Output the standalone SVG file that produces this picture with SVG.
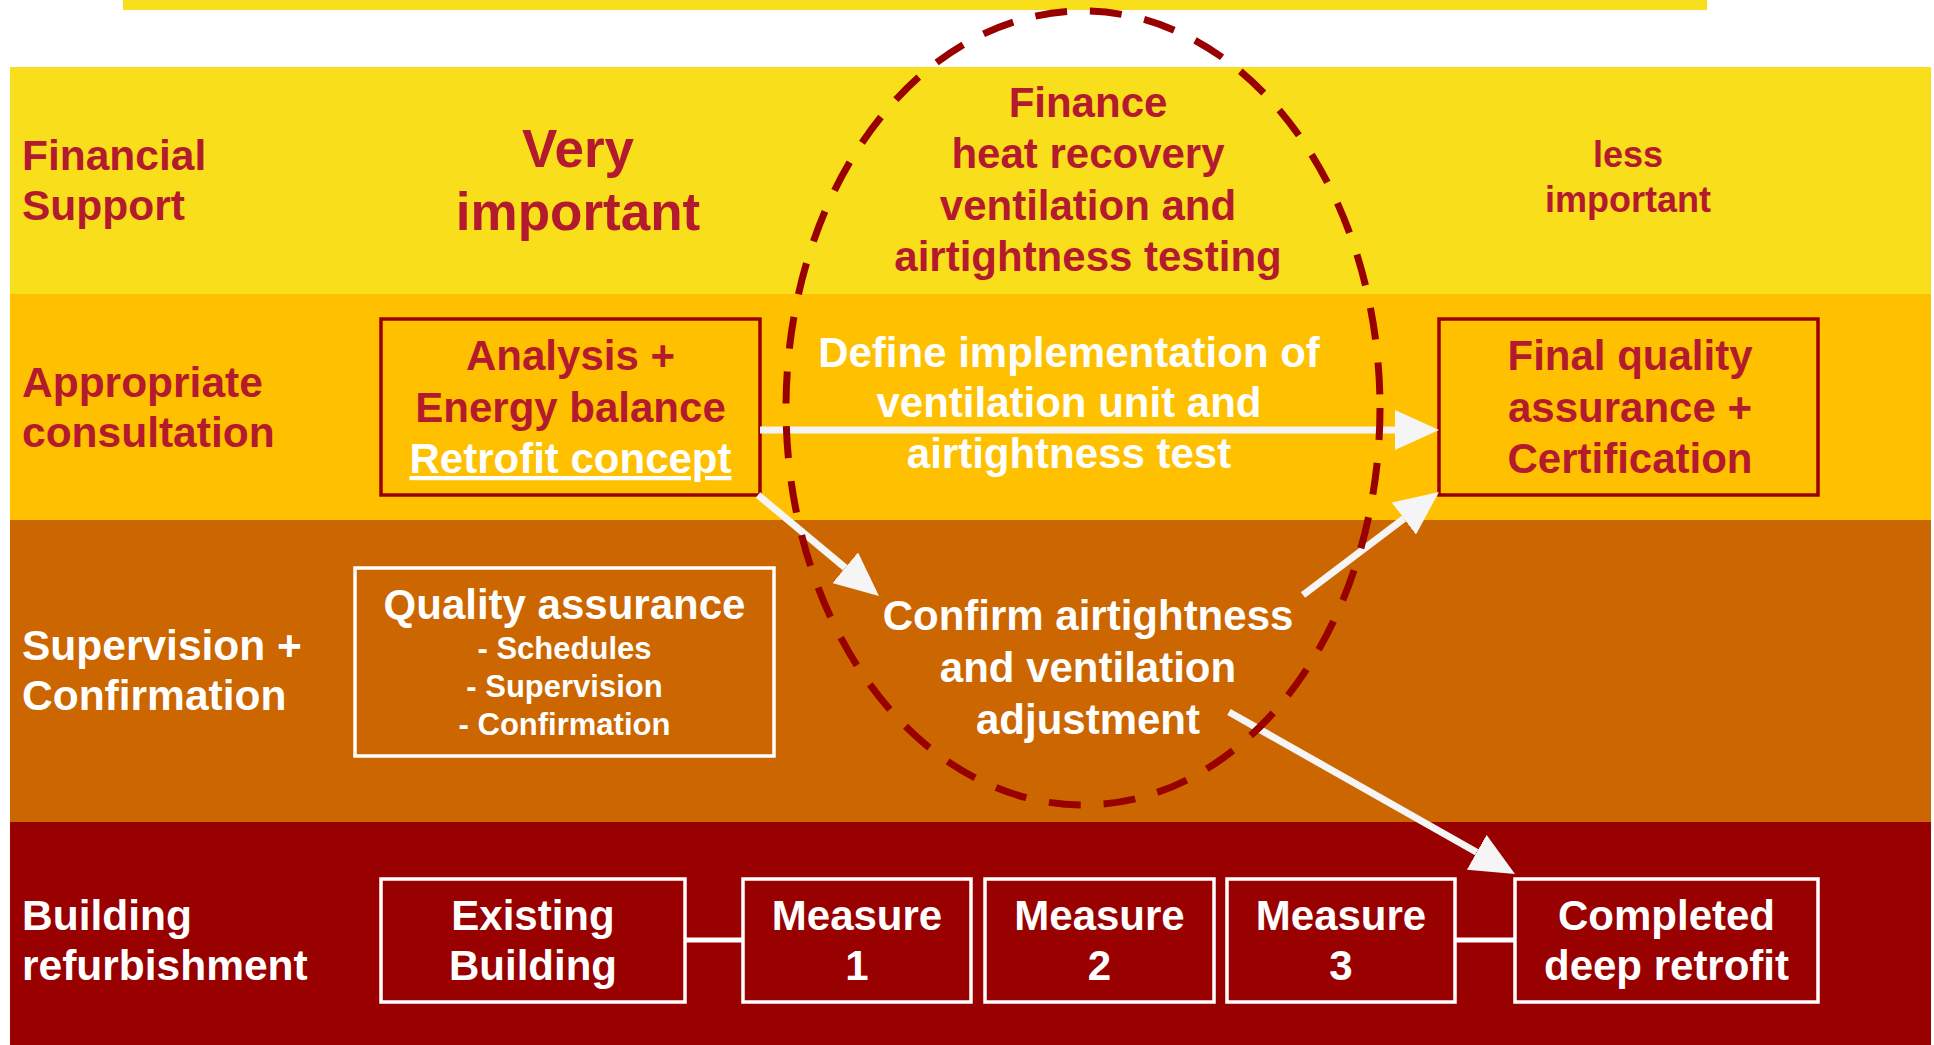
<svg xmlns="http://www.w3.org/2000/svg" width="1934" height="1045" viewBox="0 0 1934 1045">
<style>
text { font-family: "Liberation Sans", Arial, sans-serif; font-weight: bold; }
.red { fill: #B31A2D; }
.wht { fill: #FFFFFF; }
.mid { text-anchor: middle; }
.f42 { font-size: 42px; }
.lab { font-size: 42.5px; }
.f31 { font-size: 31px; }
.boxR { fill: none; stroke: #990000; stroke-width: 3.5; }
.boxW { fill: none; stroke: #FFFFFF; stroke-width: 3.5; }
.arrow { stroke: #F5F5F5; stroke-width: 7; fill: none; marker-end: url(#ah); }
.link { stroke: #FFFFFF; stroke-width: 5; }
.oval { fill: none; stroke: #990000; stroke-width: 7; stroke-dasharray: 32 23; }
</style>
<defs>
<marker id="ah" markerUnits="userSpaceOnUse" markerWidth="44" markerHeight="40" refX="0" refY="20" orient="auto">
<path d="M0,0 L44,20 L0,40 Z" fill="#F5F5F5"/>
</marker>
</defs>
<rect x="0" y="0" width="1934" height="1045" fill="#FFFFFF"/>
<rect x="123" y="0" width="1584" height="10" fill="#F9DE1C"/>
<g id="bands">
<rect x="10" y="67" width="1921" height="227" fill="#F9DE1C"/>
<rect x="10" y="294" width="1921" height="226" fill="#FFC000"/>
<rect x="10" y="520" width="1921" height="302" fill="#CC6600"/>
<rect x="10" y="822" width="1921" height="223" fill="#990000"/>
</g>
<g id="row-labels">
<text class="red lab" x="22" y="170">Financial</text>
<text class="red lab" x="22" y="220">Support</text>
<text class="red lab" x="22" y="397">Appropriate</text>
<text class="red lab" x="22" y="447">consultation</text>
<text class="wht lab" x="22" y="660">Supervision +</text>
<text class="wht lab" x="22" y="710">Confirmation</text>
<text class="wht lab" x="22" y="930">Building</text>
<text class="wht lab" x="22" y="980">refurbishment</text>
</g>
<g id="very-important">
<text class="red mid" style="font-size:53px" x="578" y="167">Very</text>
<text class="red mid" style="font-size:53px" x="578" y="230">important</text>
</g>
<g id="finance-hrv">
<text class="red mid f42" x="1088" y="117">Finance</text>
<text class="red mid f42" x="1088" y="168">heat recovery</text>
<text class="red mid f42" x="1088" y="220">ventilation and</text>
<text class="red mid f42" x="1088" y="271">airtightness testing</text>
</g>
<g id="less-important">
<text class="red mid" style="font-size:36px" x="1628" y="167">less</text>
<text class="red mid" style="font-size:36px" x="1628" y="212">important</text>
</g>
<g id="analysis">
<rect class="boxR" x="381" y="319" width="379" height="176"/>
<text class="red mid f42" x="570.5" y="370">Analysis +</text>
<text class="red mid f42" x="570.5" y="422">Energy balance</text>
<text class="wht mid f42" x="570.5" y="473" text-decoration="underline">Retrofit concept</text>
</g>
<g id="final-qa">
<rect class="boxR" x="1439" y="319" width="379" height="176"/>
<text class="red mid f42" x="1630" y="370">Final quality</text>
<text class="red mid f42" x="1630" y="422">assurance +</text>
<text class="red mid f42" x="1630" y="473">Certification</text>
</g>
<g id="define-impl">
<text class="wht mid f42" x="1069" y="367">Define implementation of</text>
<text class="wht mid f42" x="1069" y="417">ventilation unit and</text>
<text class="wht mid f42" x="1069" y="468">airtightness test</text>
</g>
<g id="quality-assurance">
<rect class="boxW" x="355" y="568" width="419" height="188"/>
<text class="wht mid f42" x="564.5" y="619">Quality assurance</text>
<text class="wht mid f31" x="564.5" y="659">- Schedules</text>
<text class="wht mid f31" x="564.5" y="697">- Supervision</text>
<text class="wht mid f31" x="564.5" y="735">- Confirmation</text>
</g>
<g id="confirm">
<text class="wht mid f42" x="1088" y="630">Confirm airtightness</text>
<text class="wht mid f42" x="1088" y="682">and ventilation</text>
<text class="wht mid f42" x="1088" y="734">adjustment</text>
</g>
<g id="existing-building">
<rect class="boxW" x="381" y="879" width="304" height="123"/>
<text class="wht mid f42" x="533" y="930">Existing</text>
<text class="wht mid f42" x="533" y="980">Building</text>
</g>
<g id="measure-1">
<rect class="boxW" x="743" y="879" width="228" height="123"/>
<text class="wht mid f42" x="857" y="930">Measure</text>
<text class="wht mid f42" x="857" y="980">1</text>
</g>
<g id="measure-2">
<rect class="boxW" x="985" y="879" width="229" height="123"/>
<text class="wht mid f42" x="1099.5" y="930">Measure</text>
<text class="wht mid f42" x="1099.5" y="980">2</text>
</g>
<g id="measure-3">
<rect class="boxW" x="1227" y="879" width="228" height="123"/>
<text class="wht mid f42" x="1341" y="930">Measure</text>
<text class="wht mid f42" x="1341" y="980">3</text>
</g>
<g id="completed">
<rect class="boxW" x="1515" y="879" width="303" height="123"/>
<text class="wht mid f42" x="1666.5" y="930">Completed</text>
<text class="wht mid f42" x="1666.5" y="980">deep retrofit</text>
</g>
<g id="connectors">
<line class="arrow" x1="760" y1="430" x2="1395" y2="430"/>
<line class="arrow" x1="758" y1="495" x2="845.2" y2="567.8"/>
<line class="arrow" x1="1303" y1="595" x2="1403.9" y2="518.6"/>
<line class="arrow" x1="1229" y1="712" x2="1476.7" y2="852.3"/>
<line class="link" x1="685" y1="940" x2="743" y2="940"/>
<line class="link" x1="1455" y1="940" x2="1515" y2="940"/>
</g>
<g id="focus-oval">
<ellipse class="oval" cx="1083" cy="408" rx="297" ry="397"/>
</g>
</svg>
